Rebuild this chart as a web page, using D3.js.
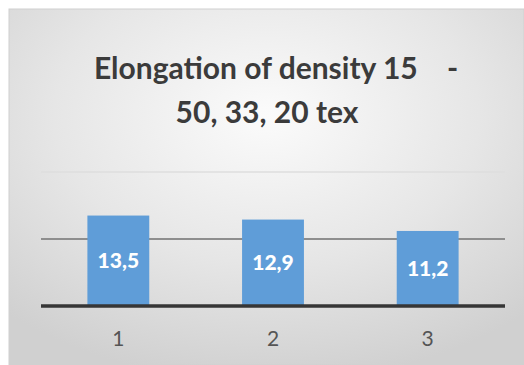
<!DOCTYPE html>
<html>
<head>
<meta charset="utf-8">
<script src="https://cdn.jsdelivr.net/npm/d3@7"></script>
<style>
  html, body { margin: 0; padding: 0; background: #fff; }
  svg { display: block; }
  text { font-family: Lato, "Open Sans", sans-serif; }
</style>
</head>
<body>
<svg id="chart" width="524" height="365"></svg>
<script>
const categories = ["1", "2", "3"];
const values = [13.5, 12.9, 11.2];
const valueLabels = ["13,5", "12,9", "11,2"];
const gridValues = [10, 20];
const titleLines = ["Elongation of density 15    -", "50, 33, 20 tex"];

const W = 524, H = 365;
const svg = d3.select("#chart");

const defs = svg.append("defs");
const grad = defs.append("radialGradient").attr("id", "bg")
  .attr("cx", "50%").attr("cy", "30%").attr("r", "75%");
grad.append("stop").attr("offset", "0%").attr("stop-color", "#fbfbfb");
grad.append("stop").attr("offset", "55%").attr("stop-color", "#e6e6e6");
grad.append("stop").attr("offset", "100%").attr("stop-color", "#d0d0d0");

svg.append("rect").attr("x", 9).attr("y", 9).attr("width", W - 9).attr("height", H - 9)
  .attr("fill", "url(#bg)").attr("stroke", "#d0d0d0").attr("stroke-width", 1);

const plot = { left: 41, right: 505, top: 172, bottom: 306 };

const x = d3.scaleBand().domain(categories).range([plot.left, plot.right])
  .paddingInner(0.6).paddingOuter(0.3);
const y = d3.scaleLinear().domain([0, 20]).range([plot.bottom, plot.top]);

// gridlines
svg.append("g").selectAll("line").data(gridValues).join("line")
  .attr("x1", plot.left).attr("x2", plot.right)
  .attr("y1", d => y(d)).attr("y2", d => y(d))
  .attr("stroke", d => d === 20 ? "#dedede" : "#8e8e8e")
  .attr("stroke-width", d => d === 20 ? 1.5 : 2.2);

// bars
svg.append("g").selectAll("rect").data(values).join("rect")
  .attr("x", (d, i) => x(categories[i]))
  .attr("y", d => y(d))
  .attr("width", x.bandwidth())
  .attr("height", d => y(0) - y(d))
  .attr("fill", "#5f9dd8");

// baseline
svg.append("line").attr("x1", plot.left).attr("x2", plot.right)
  .attr("y1", y(0)).attr("y2", y(0))
  .attr("stroke", "#363636").attr("stroke-width", 3.5);

// value labels
svg.append("g").selectAll("text").data(values).join("text")
  .attr("x", (d, i) => x(categories[i]) + x.bandwidth() / 2)
  .attr("y", d => (y(d) + y(0)) / 2)
  .attr("dy", "0.35em")
  .attr("text-anchor", "middle")
  .attr("fill", "#ffffff")
  .attr("font-weight", "900")
  .attr("font-size", 21)
  .text((d, i) => valueLabels[i]);

// x axis
const xAxis = svg.append("g")
  .attr("transform", `translate(0,${y(0) + 25})`)
  .call(d3.axisBottom(x).tickSize(0).tickPadding(0));
xAxis.select(".domain").remove();
xAxis.selectAll("text")
  .attr("font-family", "Lato, sans-serif")
  .attr("font-size", 21)
  .attr("fill", "#555555");

// title
const title = svg.append("text")
  .attr("text-anchor", "middle")
  .attr("fill", "#3b3b3b")
  .attr("font-weight", "bold")
  .attr("font-size", 30)
  .style("white-space", "pre");
title.append("tspan").attr("x", 276).attr("y", 79).text(titleLines[0]);
title.append("tspan").attr("x", 267).attr("y", 123).text(titleLines[1]);
</script>
</body>
</html>
